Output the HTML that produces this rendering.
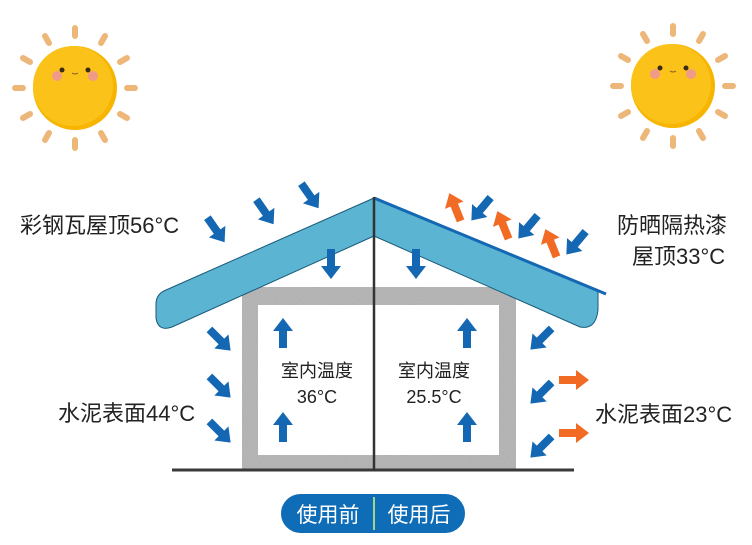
<!DOCTYPE html>
<html><head><meta charset="utf-8"><style>
html,body{margin:0;padding:0;background:#fff;}
svg{display:block;}
text{font-family:"Liberation Sans","Noto Sans CJK SC",sans-serif;}
</style></head><body>
<svg width="752" height="545" viewBox="0 0 752 545" xmlns="http://www.w3.org/2000/svg">
<defs>
<path id="ab" d="M-15,-4 L2,-4 L2,-10 L15,0 L2,10 L2,4 L-15,4 Z" fill="#1468b3"/>
<path id="ao" d="M-15,-4 L2,-4 L2,-10 L15,0 L2,10 L2,4 L-15,4 Z" fill="#f26b24"/>
<filter id="noise" x="0" y="0" width="1" height="1"><feTurbulence type="fractalNoise" baseFrequency="0.9" numOctaves="2"/><feColorMatrix type="matrix" values="0 0 0 0 0.4  0 0 0 0 0.4  0 0 0 0 0.4  1.2 0 0 0 -0.3"/></filter>
<g id="sun">
<g stroke="#eeb77a" stroke-width="6" stroke-linecap="round">
<line x1="0" y1="-52" x2="0" y2="-60"/><line x1="0" y1="52" x2="0" y2="60"/>
<line x1="-52" y1="0" x2="-60" y2="0"/><line x1="52" y1="0" x2="60" y2="0"/>
<line x1="26" y1="-45" x2="30" y2="-52"/><line x1="-26" y1="-45" x2="-30" y2="-52"/>
<line x1="26" y1="45" x2="30" y2="52"/><line x1="-26" y1="45" x2="-30" y2="52"/>
<line x1="45" y1="-26" x2="52" y2="-30"/><line x1="-45" y1="-26" x2="-52" y2="-30"/>
<line x1="45" y1="26" x2="52" y2="30"/><line x1="-45" y1="26" x2="-52" y2="30"/>
</g>
<circle r="42" fill="#f7b500"/>
<circle r="40" cx="-2" cy="-2" fill="#fbc21a"/>
<circle cx="-18" cy="-12" r="5" fill="#f19a8a"/><circle cx="18" cy="-12" r="5" fill="#f19a8a"/>
<circle cx="-13" cy="-18" r="2.5" fill="#3a2a1a"/><circle cx="13" cy="-18" r="2.5" fill="#3a2a1a"/>
<path d="M-3,-15 Q0,-13 3,-15" stroke="#8a5a2a" stroke-width="1" fill="none"/>
</g>
</defs>

<use href="#sun" x="75" y="88"/>
<use href="#sun" x="673" y="86"/>

<!-- walls -->
<rect x="242" y="287" width="274" height="183" fill="#b8b8b8"/>
<rect x="242" y="287" width="274" height="183" filter="url(#noise)"/>
<rect x="258" y="305" width="241" height="150" fill="#fff"/>
<line x1="172" y1="470" x2="574" y2="470" stroke="#3a3a3a" stroke-width="3"/>

<!-- roofs -->
<path d="M374,198 L166,290 Q156,294 156,304 L156,318 Q158,332 172,327 L374,236 Z" fill="#5ab4d2" stroke="#1a5a7a" stroke-width="1"/>
<path d="M374,198 L598,290 L598,310 Q596,330 580,327 L374,236 Z" fill="#5ab4d2" stroke="#1a5a7a" stroke-width="1"/>
<line x1="374" y1="198" x2="606" y2="294" stroke="#1468b3" stroke-width="3"/>
<line x1="374" y1="197" x2="374" y2="471" stroke="#333" stroke-width="2.5"/>

<!-- left arrows -->
<use href="#ab" transform="translate(216,230) rotate(55)"/>
<use href="#ab" transform="translate(265,212) rotate(55)"/>
<use href="#ab" transform="translate(310,196) rotate(55)"/>
<use href="#ab" transform="translate(331,264) rotate(90)"/>
<use href="#ab" transform="translate(220,340) rotate(45)"/>
<use href="#ab" transform="translate(220,387) rotate(45)"/>
<use href="#ab" transform="translate(220,432) rotate(45)"/>
<use href="#ab" transform="translate(283,333) rotate(-90)"/>
<use href="#ab" transform="translate(283,427) rotate(-90)"/>
<!-- right arrows -->
<use href="#ab" transform="translate(416,264) rotate(90)"/>
<use href="#ab" transform="translate(467,333) rotate(-90)"/>
<use href="#ab" transform="translate(467,427) rotate(-90)"/>
<use href="#ab" transform="translate(481,209) rotate(130)"/>
<use href="#ab" transform="translate(528,227) rotate(130)"/>
<use href="#ab" transform="translate(576,243) rotate(130)"/>
<use href="#ao" transform="translate(455,207) rotate(-112)"/>
<use href="#ao" transform="translate(503,225) rotate(-112)"/>
<use href="#ao" transform="translate(551,243) rotate(-112)"/>
<use href="#ab" transform="translate(541,339) rotate(135)"/>
<use href="#ab" transform="translate(541,393) rotate(135)"/>
<use href="#ab" transform="translate(541,447) rotate(135)"/>
<use href="#ao" transform="translate(574,380)"/>
<use href="#ao" transform="translate(574,433)"/>

<!-- labels -->
<g font-size="22" fill="#222">
<text x="20" y="233">彩钢瓦屋顶56°C</text>
<text x="58" y="421">水泥表面44°C</text>
<text x="617" y="233">防晒隔热漆</text>
<text x="632" y="264">屋顶33°C</text>
<text x="595" y="422">水泥表面23°C</text>
</g>
<g font-size="18" fill="#222" text-anchor="middle">
<text x="317" y="377">室内温度</text>
<text x="317" y="403">36°C</text>
<text x="434" y="377">室内温度</text>
<text x="434" y="403">25.5°C</text>
</g>

<!-- button -->
<rect x="281" y="494" width="184" height="39" rx="19.5" fill="#0f6cb6"/>
<line x1="374" y1="497" x2="374" y2="530" stroke="#9fd48a" stroke-width="2"/>
<g font-size="21" fill="#fff" text-anchor="middle">
<text x="328" y="522">使用前</text>
<text x="419" y="522">使用后</text>
</g>
</svg>
</body></html>
